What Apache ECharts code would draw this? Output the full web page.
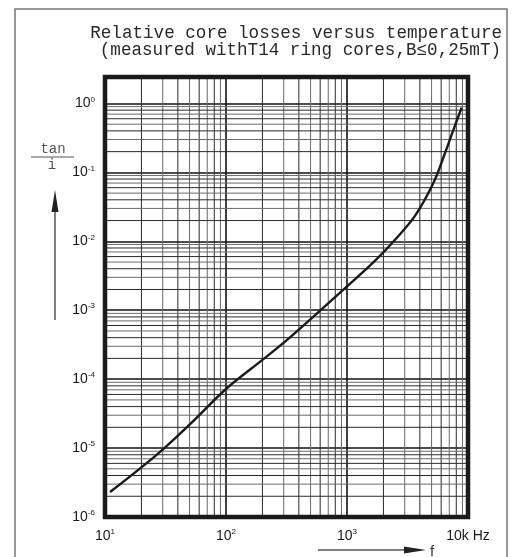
<!DOCTYPE html>
<html><head><meta charset="utf-8">
<script src="https://cdn.jsdelivr.net/npm/echarts@6/dist/echarts.min.js"></script>
<style>html,body{margin:0;padding:0;background:#fff}#c{width:520px;height:557px}</style>
</head><body><div id="c"></div>
<script>
// data (tan δ / μi versus frequency)
const frequencyHz = [11, 27, 51, 100, 200, 336, 980, 1700, 2550, 3680, 5210, 6380, 7520, 8860];
const lossFactor  = [2.3e-6, 8.1e-6, 2.26e-5, 7.2e-5, 1.9e-4, 4.0e-4, 2.15e-3, 5.2e-3, 1.1e-2, 2.4e-2, 7.2e-2, 0.18, 0.40, 0.87];

// axis ranges
const xRange = [10, 10000];
const yRange = [1e-6, 2.42];

// tick labels
const xTickExponents = [1, 2, 3, 4];
const xTickLabels = ['10^1', '10^2', '10^3', '10k Hz'];
const yTickExponents = [-6, -5, -4, -3, -2, -1, 0];
const yTickLabels = ['10^-6', '10^-5', '10^-4', '10^-3', '10^-2', '10^-1', '10^0'];

// minor grid multipliers and decades
const minorMultipliers = [2, 3, 4, 5, 6, 7, 8, 9];
const xMinorDecades = [10, 100, 1000];
const yMinorDecades = [1e-6, 1e-5, 1e-4, 1e-3, 1e-2, 1e-1];

const titleLine1 = 'Relative core losses versus temperature';
const titleLine2 = '(measured withT14 ring cores,B≤0,25mT)';

function toRich(lbl) {
  if (lbl.indexOf('^') < 0) return '{b|' + lbl + '}';
  const p = lbl.split('^');
  return '{b|' + p[0] + '}{s|' + p[1] + '}';
}
function labelFor(v, exps, labels) {
  const e = Math.round(Math.log10(v));
  const i = exps.indexOf(e);
  if (i < 0 || Math.abs(Math.log10(v) - e) > 1e-6) return '';
  return toRich(labels[i]);
}
const rich = {
  b: {fontSize: 14, fontFamily: 'Liberation Sans', color: '#1a1a1a', lineHeight: 16},
  s: {fontSize: 8, fontFamily: 'Liberation Sans', color: '#1a1a1a', lineHeight: 9, verticalAlign: 'top'}
};

// minor grid lines as thin line series drawn through the axes' scales
const gridSeries = [];
function gridLine(points, color) {
  gridSeries.push({
    type: 'line', z: 1, silent: true, showSymbol: false, data: points,
    lineStyle: {color: color, width: 1}, emphasis: {disabled: true}
  });
}
xMinorDecades.forEach(d => minorMultipliers.forEach((m, k) => {
  const x = +(d * m).toPrecision(6);
  gridLine([[x, yRange[0]], [x, yRange[1]]], k % 2 === 0 ? '#2a2a2a' : '#6a6a6a');
}));
yMinorDecades.forEach(d => minorMultipliers.forEach((m, k) => {
  const y = +(d * m).toPrecision(6);
  gridLine([[xRange[0], y], [xRange[1], y]], k % 2 === 0 ? '#2a2a2a' : '#6a6a6a');
}));

const chart = echarts.init(document.getElementById('c'), null, {renderer: 'canvas'});
const grey = '#555';
chart.setOption({
  animation: false,
  backgroundColor: '#fff',
  grid: {left: 105, right: 52, top: 77, bottom: 40, show: true, borderColor: '#1a1a1a', borderWidth: 4.5, backgroundColor: 'transparent', z: 5},
  xAxis: {
    type: 'log', logBase: 10, min: xRange[0], max: xRange[1],
    axisLine: {show: false}, axisTick: {show: false},
    splitLine: {show: true, lineStyle: {color: '#111', width: 1.6}},
    axisLabel: {margin: 11, formatter: v => labelFor(v, xTickExponents, xTickLabels), rich: rich}
  },
  yAxis: {
    type: 'log', logBase: 10, min: yRange[0], max: yRange[1],
    axisLine: {show: false}, axisTick: {show: false},
    splitLine: {show: true, lineStyle: {color: '#111', width: 1.6}},
    axisLabel: {margin: 10, showMaxLabel: false, formatter: v => labelFor(v, yTickExponents, yTickLabels), rich: rich}
  },
  series: gridSeries.concat([
    {
      type: 'line', z: 3, silent: true,
      data: frequencyHz.map((f, i) => [f, lossFactor[i]]),
      smooth: 0.35, showSymbol: false,
      lineStyle: {color: '#1a1a1a', width: 2.4}
    }
  ]),
  graphic: [
    {type: 'rect', silent: true, shape: {x: 15, y: 9, width: 492, height: 570},
     style: {fill: 'none', stroke: '#777', lineWidth: 1.5}},
    {type: 'text', silent: true, x: 502, y: 33,
     style: {text: titleLine1, font: '17.6px "Liberation Mono"', fill: '#2a2a2a', textAlign: 'right', textVerticalAlign: 'middle'}},
    {type: 'text', silent: true, x: 501, y: 50,
     style: {text: titleLine2, font: '17.6px "Liberation Mono"', fill: '#2a2a2a', textAlign: 'right', textVerticalAlign: 'middle'}},
    // y-axis quantity
    {type: 'text', silent: true, x: 53, y: 149,
     style: {text: 'tan', font: '14px "Liberation Mono"', fill: grey, textAlign: 'center', textVerticalAlign: 'middle'}},
    {type: 'line', silent: true, shape: {x1: 31, y1: 157, x2: 74, y2: 157}, style: {stroke: grey, lineWidth: 1.2}},
    {type: 'text', silent: true, x: 52, y: 165,
     style: {text: 'i', font: '14px "Liberation Mono"', fill: grey, textAlign: 'center', textVerticalAlign: 'middle'}},
    {type: 'line', silent: true, shape: {x1: 55, y1: 320, x2: 55, y2: 208}, style: {stroke: grey, lineWidth: 1.5}},
    {type: 'polygon', silent: true, shape: {points: [[55, 190], [51.5, 212], [58.5, 212]]}, style: {fill: '#222'}},
    // x-axis quantity
    {type: 'line', silent: true, shape: {x1: 318, y1: 550, x2: 408, y2: 550}, style: {stroke: grey, lineWidth: 1.5}},
    {type: 'polygon', silent: true, shape: {points: [[426, 550], [404, 546.5], [404, 553.5]]}, style: {fill: '#222'}},
    {type: 'text', silent: true, x: 432, y: 552,
     style: {text: 'f', font: '15px "Liberation Sans"', fill: '#333', textAlign: 'center', textVerticalAlign: 'middle'}}
  ]
});
</script></body></html>
